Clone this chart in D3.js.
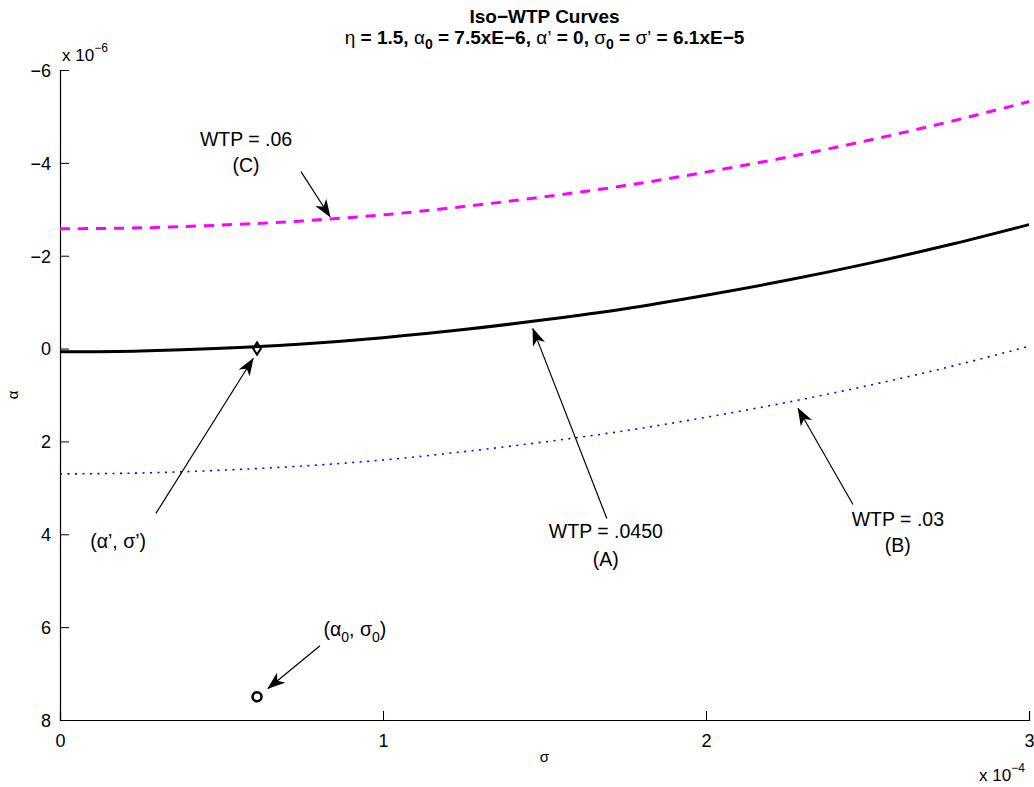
<!DOCTYPE html>
<html>
<head>
<meta charset="utf-8">
<script src="https://cdn.jsdelivr.net/npm/d3@7"></script>
<style>
  body { margin: 0; background: #fff; }
  text { font-family: "Liberation Sans", Arial, sans-serif; }
</style>
</head>
<body>
<div id="chart"></div>
<script>
// sigma in units of 1e-4, alpha in units of 1e-6 (alpha axis is reversed)
const sigma = [0, 0.25, 0.5, 0.75, 1, 1.25, 1.5, 1.75, 2, 2.25, 2.5, 2.75, 3];
const wtpA = [0.07, 0.05, -0.006, -0.10, -0.235, -0.41, -0.62, -0.86, -1.15, -1.47, -1.83, -2.23, -2.67];
const wtpB = [2.70, 2.68, 2.62, 2.53, 2.40, 2.22, 2.01, 1.77, 1.48, 1.16, 0.80, 0.40, -0.05];
const wtpC = [-2.58, -2.60, -2.66, -2.75, -2.88, -3.06, -3.27, -3.51, -3.80, -4.12, -4.48, -4.88, -5.32];

const xTicks = [0, 1, 2, 3];
const yTicks = [-6, -4, -2, 0, 2, 4, 6, 8];

// (alpha', sigma') and (alpha0, sigma0)
const pointPrime = { s: 0.61, a: 0 };
const pointZero = { s: 0.61, a: 7.5 };

// annotation arrows: text position, arrow tail, arrow head (data units)
const notes = [
  { lines: ["WTP = .06", "(C)"], gap: 26, tx: 0.576, ty: -4.37, x0: 0.746, y0: -3.81, x1: 0.836, y1: -2.84 },
  { lines: ["(α’, σ’)"], gap: 0, tx: 0.18, ty: 4.29, x0: 0.297, y0: 3.55, x1: 0.598, y1: 0.215 },
  { lines: ["WTP = .0450", "(A)"], gap: 28, tx: 1.69, ty: 4.07, x0: 1.693, y0: 3.66, x1: 1.464, y1: -0.43 },
  { lines: ["WTP = .03", "(B)"], gap: 26, tx: 2.594, ty: 3.82, x0: 2.455, y0: 3.36, x1: 2.285, y1: 1.29 }
];
const noteZero = { tx: 0.913, ty: 6.2, x0: 0.805, y0: 6.40, x1: 0.644, y1: 7.32 };

const width = 1034, height = 787;
const margin = { left: 60, right: 5, top: 70, bottom: 67 };

const x = d3.scaleLinear().domain([0, 3]).range([margin.left, width - margin.right]);
const y = d3.scaleLinear().domain([-6, 8]).range([margin.top, height - margin.bottom]);

const svg = d3.select("#chart").append("svg")
  .attr("width", width)
  .attr("height", height);

svg.append("defs").append("marker")
  .attr("id", "arrow")
  .attr("viewBox", "0 0 18 13")
  .attr("refX", 17)
  .attr("refY", 6.5)
  .attr("markerWidth", 18)
  .attr("markerHeight", 13)
  .attr("markerUnits", "userSpaceOnUse")
  .attr("orient", "auto")
  .append("path")
  .attr("d", "M0,0 L18,6.5 L0,13 L5,6.5 Z")
  .attr("fill", "#000");

// title
const cx = (x(0) + x(3)) / 2;
const title = svg.append("text")
  .attr("x", cx)
  .attr("text-anchor", "middle")
  .style("font-weight", "bold")
  .style("font-size", "19px");
title.append("tspan").attr("x", cx).attr("y", 23).text("Iso−WTP Curves");
const t2 = title.append("tspan").attr("x", cx).attr("y", 44);
t2.append("tspan").style("font-weight", "normal").text("η");
t2.append("tspan").text(" = 1.5, ");
t2.append("tspan").style("font-weight", "normal").text("α");
t2.append("tspan").attr("dy", 5).style("font-size", "14px").text("0");
t2.append("tspan").attr("dy", -5).text(" = 7.5xE−6, ");
t2.append("tspan").style("font-weight", "normal").text("α’");
t2.append("tspan").text(" = 0, ");
t2.append("tspan").style("font-weight", "normal").text("σ");
t2.append("tspan").attr("dy", 5).style("font-size", "14px").text("0");
t2.append("tspan").attr("dy", -5).text(" = ");
t2.append("tspan").style("font-weight", "normal").text("σ’");
t2.append("tspan").text(" = 6.1xE−5");

// axes
const fmt = d => d < 0 ? "−" + Math.abs(d) : String(d);

const gx = svg.append("g")
  .attr("transform", `translate(0,${y(8)})`)
  .call(d3.axisBottom(x).tickValues(xTicks).tickSize(-9).tickPadding(14).tickFormat(fmt));
const gy = svg.append("g")
  .attr("transform", `translate(${x(0)},0)`)
  .call(d3.axisLeft(y).tickValues(yTicks).tickSize(-9).tickPadding(9).tickFormat(fmt));

[gx, gy].forEach(g => {
  g.select(".domain").attr("stroke", "#000").attr("stroke-width", 1.2);
  g.selectAll(".tick line").attr("stroke", "#000");
  g.selectAll(".tick text")
    .style("font-size", "18px")
    .style("font-family", "'Liberation Sans', Arial, sans-serif")
    .attr("fill", "#000");
});
gy.selectAll(".tick text").attr("dy", "0.35em");

// exponent labels
const ey = svg.append("text").attr("x", x(0) + 2).attr("y", 61).style("font-size", "17px");
ey.append("tspan").text("x 10");
ey.append("tspan").attr("dy", -9).style("font-size", "12px").text("−6");
const ex = svg.append("text").attr("x", x(3) - 50).attr("y", 781).style("font-size", "17px");
ex.append("tspan").text("x 10");
ex.append("tspan").attr("dy", -9).style("font-size", "12px").text("−4");

// axis titles
svg.append("text")
  .attr("x", cx)
  .attr("y", 762)
  .attr("text-anchor", "middle")
  .style("font-size", "15px")
  .text("σ");
svg.append("text")
  .attr("transform", `translate(18,${(y(-6) + y(8)) / 2}) rotate(-90)`)
  .attr("text-anchor", "middle")
  .style("font-size", "15px")
  .text("α");

// curves
const line = d3.line()
  .x(d => x(d[0]))
  .y(d => y(d[1]))
  .curve(d3.curveMonotoneX);

svg.append("path")
  .attr("d", line(d3.zip(sigma, wtpC)))
  .attr("fill", "none")
  .attr("stroke", "#ff00ff")
  .attr("stroke-width", 3)
  .attr("stroke-dasharray", "10,8");

svg.append("path")
  .attr("d", line(d3.zip(sigma, wtpA)))
  .attr("fill", "none")
  .attr("stroke", "#000")
  .attr("stroke-width", 3);

svg.append("path")
  .attr("d", line(d3.zip(sigma, wtpB)))
  .attr("fill", "none")
  .attr("stroke", "#0000ff")
  .attr("stroke-width", 1.6)
  .attr("stroke-dasharray", "2,5.5");

// markers
svg.append("path")
  .attr("d", d3.symbol(d3.symbolDiamond2, 60)())
  .attr("transform", `translate(${x(pointPrime.s)},${y(pointPrime.a)}) scale(0.8,1.25)`)
  .attr("fill", "none")
  .attr("stroke", "#000")
  .attr("stroke-width", 2.2);

svg.append("circle")
  .attr("cx", x(pointZero.s))
  .attr("cy", y(pointZero.a))
  .attr("r", 4.5)
  .attr("fill", "none")
  .attr("stroke", "#000")
  .attr("stroke-width", 2.5);

// annotations
const allArrows = notes.concat([noteZero]);
svg.append("g").selectAll("line")
  .data(allArrows)
  .join("line")
  .attr("x1", d => x(d.x0))
  .attr("y1", d => y(d.y0))
  .attr("x2", d => x(d.x1))
  .attr("y2", d => y(d.y1))
  .attr("stroke", "#000")
  .attr("stroke-width", 1.2)
  .attr("marker-end", "url(#arrow)");

notes.forEach(n => {
  const t = svg.append("text")
    .attr("text-anchor", "middle")
    .style("font-size", "19.5px");
  n.lines.forEach((s, i) => {
    t.append("tspan")
      .attr("x", x(n.tx))
      .attr("y", y(n.ty) + i * n.gap)
      .text(s);
  });
});

const tz = svg.append("text")
  .attr("x", x(noteZero.tx))
  .attr("y", y(noteZero.ty))
  .attr("text-anchor", "middle")
  .style("font-size", "19.5px");
tz.append("tspan").text("(α");
tz.append("tspan").attr("dy", 6).style("font-size", "14px").text("0");
tz.append("tspan").attr("dy", -6).text(", σ");
tz.append("tspan").attr("dy", 6).style("font-size", "14px").text("0");
tz.append("tspan").attr("dy", -6).text(")");
</script>
</body>
</html>
